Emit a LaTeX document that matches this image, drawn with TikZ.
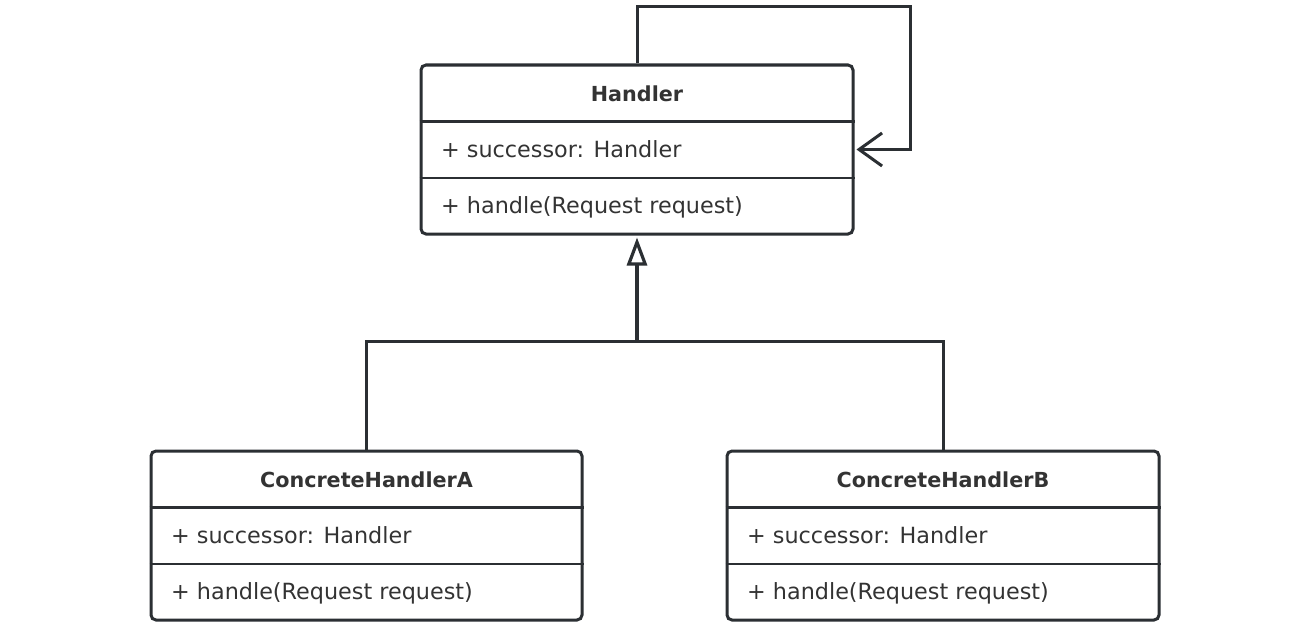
\documentclass[tikz,border=0pt]{standalone}
\usepackage{fontspec}
\setmainfont{DejaVu Sans}
\usetikzlibrary{arrows.meta,calc}
\definecolor{ink}{HTML}{2B2F33}
\definecolor{txt}{HTML}{333333}
\begin{document}
\begin{tikzpicture}[x=1pt,y=-1pt,
  classbox/.style={draw=ink, line width=3pt, rounded corners=5pt, fill=white,
    minimum width=432pt, minimum height=169pt, inner sep=0pt},
  divider/.style={draw=ink, line width=2.6pt},
  classtitle/.style={text=txt, font=\fontsize{20.7}{24}\selectfont\bfseries,
    inner sep=0pt, anchor=base},
  member/.style={text=txt, font=\fontsize{22.3}{26}\selectfont,
    inner sep=0pt, anchor=base west},
  conn/.style={draw=ink, line width=3pt},
]
\useasboundingbox[fill=white] (0,0) rectangle (1316,634);

% abstract handler
\node[classbox] (h) at (637,149.5) {};
\draw[divider] (h.west |- 0,121.5) -- (h.east |- 0,121.5);
\draw[divider] (h.west |- 0,178) -- (h.east |- 0,178);
\node[classtitle] (ht) at (637,101) {Handler};
\node[member] (ha) at (441,157) {+ successor: Handler};
\node[member] (hm) at (441,213) {+ handle(Request request)};

% concrete handler A
\node[classbox, minimum width=431pt] (a) at (366.5,535.5) {};
\draw[divider] (a.west |- 0,507.5) -- (a.east |- 0,507.5);
\draw[divider] (a.west |- 0,564) -- (a.east |- 0,564);
\node[classtitle] (at) at (366.5,487) {ConcreteHandlerA};
\node[member] (aa) at (171,543) {+ successor: Handler};
\node[member] (am) at (171,599) {+ handle(Request request)};

% concrete handler B
\node[classbox] (b) at (943,535.5) {};
\draw[divider] (b.west |- 0,507.5) -- (b.east |- 0,507.5);
\draw[divider] (b.west |- 0,564) -- (b.east |- 0,564);
\node[classtitle] (bt) at (943,487) {ConcreteHandlerB};
\node[member] (ba) at (747,543) {+ successor: Handler};
\node[member] (bm) at (747,599) {+ handle(Request request)};

% generalization tree
\coordinate (j) at (637,341);
\draw[conn] (a.north) |- (j) -| (b.north);
\draw[draw=ink, line width=4pt, -{Triangle[open, length=28pt, width=20pt, line width=3.2pt]}]
  (j) -- ($(h.south)+(0,2)$);

% self association: successor
\coordinate (loop) at (910,7);
\draw[conn, -{Straight Barb[length=23pt, width=33pt]}]
  (h.north) |- (loop) |- ($(h.east)+(2,0)$);
\end{tikzpicture}
\end{document}
